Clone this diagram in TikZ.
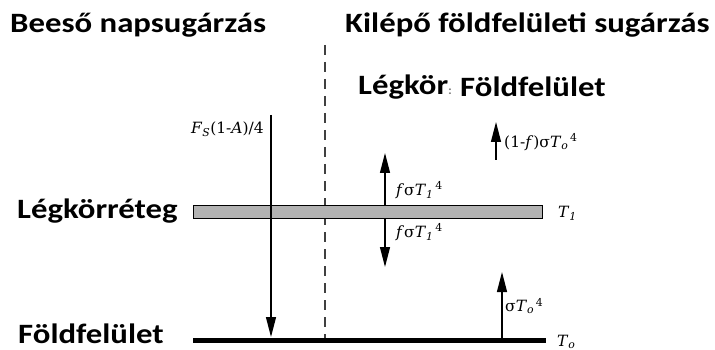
\documentclass[tikz,border=0pt]{standalone}
\usepackage{fontspec}
\setmainfont{DejaVu Serif}
\newfontfamily\headfont{Carlito}
\usetikzlibrary{arrows.meta}
\tikzset{
  head/.style={font=\headfont\bfseries\fontsize{28}{30}\selectfont, inner sep=0pt, xscale=1.17},
  lab/.style={font=\fontsize{15.5}{18}\selectfont, inner sep=0pt},
  flux/.style={line width=1.3pt, -{Triangle[length=20pt,width=10pt]}},
}
\newcommand{\Tsym}[2]{\textit{T}\textsubscript{\textit{#1}}\textsuperscript{\,#2}}
\begin{document}
\begin{tikzpicture}[x=1pt,y=-1pt]
  \useasboundingbox (0,0) rectangle (715,350);

  % headings
  \node[head, anchor=west] (tin) at (10,25) {Beeső napsugárzás};
  \node[head, anchor=west] (tout) at (345,25) {Kilépő földfelületi sugárzás};
  \node[head, anchor=west] (atm) at (358,87) {Légkör\textcolor{gray}{\fontsize{12}{12}\selectfont:}};
  \node[head, anchor=west] (gnd) at (460,87) {Földfelület};

  % divider between incoming and outgoing
  \coordinate (dtop) at (325,45);
  \coordinate (dbot) at (325,340);
  \draw[line width=1.2pt, dash pattern=on 10pt off 7pt, black!75] (dtop) -- (dbot);

  % atmospheric layer
  \node[head, anchor=west] (llab) at (17,211) {Légkörréteg};
  \node[draw=black, line width=0.9pt, fill=gray!60, minimum width=349pt, minimum height=13pt,
        inner sep=0pt, anchor=west] (layer) at (193,211.5) {};
  \node[lab, anchor=west] (t1) at (558,213) {\textit{T}\textsubscript{\textit{1}}};

  % ground surface
  \node[head, anchor=west] (glab) at (18,334) {Földfelület};
  \coordinate (gl) at (193,340);
  \coordinate (gr) at (546,340);
  \draw[line width=5pt] (gl) -- (gr);
  \node[lab, anchor=west] (t0) at (557,342) {\textit{T}\textsubscript{\textit{o}}};

  % incoming solar flux
  \coordinate (sin) at (271,115);
  \coordinate (sout) at (271,337);
  \draw[flux] (sin) -- (sout);
  \node[lab, anchor=east] (slab) at (264,129) {\textit{F}\textsubscript{\textit{S}}(1-\textit{A})/4};

  % layer emission up and down
  \coordinate (au) at (385,153);
  \coordinate (ad) at (385,267);
  \draw[flux] (layer.north -| au) -- (au);
  \draw[flux] (layer.south -| ad) -- (ad);
  \node[lab, anchor=west] (fup) at (396,190) {\textit{f}σ\Tsym{1}{4}};
  \node[lab, anchor=west] (fdn) at (396,232) {\textit{f}σ\Tsym{1}{4}};

  % transmitted surface radiation
  \coordinate (tb) at (496,160);
  \coordinate (tt) at (496,122);
  \draw[flux] (tb) -- (tt);
  \node[lab, anchor=west] (tlab) at (504,142) {(1-\textit{f})σ\Tsym{o}{4}};

  % surface emission
  \coordinate (eb) at (502,339);
  \coordinate (et) at (502,272);
  \draw[flux] (eb) -- (et);
  \node[lab, anchor=west] (elab) at (505,306) {σ\Tsym{o}{4}};
\end{tikzpicture}
\end{document}
